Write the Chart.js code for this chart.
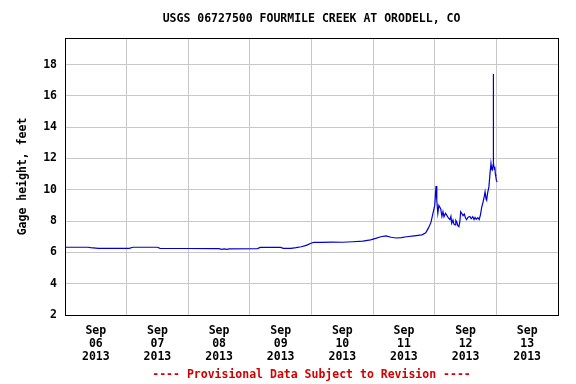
<!DOCTYPE html>
<html>
<head>
<meta charset="utf-8">
<title>USGS 06727500 Fourmile Creek at Orodell, CO</title>
<script src="https://cdn.jsdelivr.net/npm/chart.js@4/dist/chart.umd.min.js"></script>
<style>
    html, body { margin: 0; padding: 0; background: #ffffff; }
    #wrap { width: 576px; height: 384px; }
</style>
</head>
<body>
<div id="wrap"><canvas id="gageChart" width="576" height="384"></canvas></div>
<script>
// Hours since Sep 06 2013 00:00 and gage height (feet)
const hours = [
    0, 9, 10, 13, 25, 26.5, 36, 37, 48, 60, 61, 62, 63, 64, 75, 76, 84, 85, 88, 90,
    92, 94, 96, 97, 100, 104, 108, 112, 116, 119, 121, 123, 125, 127, 129, 131, 133, 136, 139, 140.5,
    141.5, 142.5, 143.3, 144, 144.5, 144.8, 145.2, 145.6, 146.3, 146.8, 147.2, 147.6, 148.2, 148.6, 149.3, 149.9, 150.3, 150.6, 151.1, 151.5,
    151.9, 152.2, 152.6, 153, 153.4, 153.8, 154.1, 154.5, 155, 155.5, 156, 156.4, 157, 157.7, 158.2, 158.8, 159.3, 159.7, 160.2, 160.8,
    161.3, 161.8, 162.3, 162.8, 163.3, 163.6, 164, 164.2, 164.6, 165.1, 165.5, 165.9, 166.2, 166.4, 166.7, 166.8, 166.9, 167.2, 167.4, 167.6,
    167.8, 168, 168.3
];
const gageHeight = [
    6.33, 6.33, 6.30, 6.26, 6.26, 6.33, 6.33, 6.26, 6.25, 6.24, 6.20, 6.22, 6.20, 6.22, 6.24, 6.32, 6.32, 6.26, 6.26, 6.30,
    6.36, 6.45, 6.60, 6.64, 6.64, 6.66, 6.65, 6.68, 6.72, 6.80, 6.90, 7.00, 7.06, 6.97, 6.92, 6.95, 7.00, 7.06, 7.12, 7.25,
    7.55, 7.90, 8.50, 9.00, 10.24, 9.30, 8.50, 9.00, 8.80, 8.30, 8.60, 8.28, 8.50, 8.40, 8.20, 8.10, 8.30, 7.86, 8.07, 7.80,
    7.75, 8.05, 7.95, 7.70, 7.64, 8.00, 8.60, 8.50, 8.35, 8.45, 8.20, 8.10, 8.25, 8.30, 8.15, 8.28, 8.10, 8.24, 8.12, 8.22,
    8.10, 8.40, 8.90, 9.20, 9.60, 9.87, 9.40, 9.34, 9.80, 10.20, 11.00, 11.70, 11.30, 11.26, 11.60, 17.40, 11.70, 11.30, 11.47, 11.00,
    10.83, 10.60, 10.50
];

// Tick labels: one per day, drawn at noon
const dayLabels = [
    ['Sep', '06', '2013'], ['Sep', '07', '2013'], ['Sep', '08', '2013'], ['Sep', '09', '2013'],
    ['Sep', '10', '2013'], ['Sep', '11', '2013'], ['Sep', '12', '2013'], ['Sep', '13', '2013']
];
const yTicks = [2, 4, 6, 8, 10, 12, 14, 16, 18];

const FONT = 'DejaVu Sans Mono';
const GRID = '#c8c8c8';

document.addEventListener('DOMContentLoaded', function() {
    // Black frame all round the plot area
    const frame = {
        id: 'frame',
        afterDraw(chart) {
            const a = chart.chartArea;
            const ctx = chart.ctx;
            ctx.save();
            ctx.strokeStyle = '#000000';
            ctx.lineWidth = 1;
            ctx.strokeRect(Math.round(a.left) + 0.5, Math.round(a.top) + 0.5,
                Math.round(a.right - a.left), Math.round(a.bottom - a.top));
            ctx.restore();
        }
    };

    const points = hours.map((h, i) => ({ x: h, y: gageHeight[i] }));

    new Chart(document.getElementById('gageChart'), {
        type: 'line',
        data: {
            datasets: [{
                data: points,
                borderColor: '#0000d0',
                borderWidth: 1.2,
                pointRadius: 0,
                tension: 0,
                fill: false
            }]
        },
        options: {
            responsive: false,
            animation: false,
            layout: { padding: { left: 0, right: 18, top: 0, bottom: 0 } },
            plugins: {
                legend: { display: false },
                tooltip: { enabled: false },
                title: {
                    display: true,
                    fullSize: false,
                    text: 'USGS 06727500 FOURMILE CREEK AT ORODELL, CO',
                    color: '#000000',
                    font: { family: FONT, size: 11.5, weight: 'bold', lineHeight: '14px' },
                    padding: { top: 12, bottom: 12 }
                },
                subtitle: {
                    display: true,
                    fullSize: false,
                    position: 'bottom',
                    text: '---- Provisional Data Subject to Revision ----',
                    color: '#d40000',
                    font: { family: FONT, size: 11.5, weight: 'bold', lineHeight: '14px' },
                    padding: { top: 0, bottom: 2 }
                }
            },
            scales: {
                x: {
                    type: 'linear',
                    min: 0,
                    max: 192,
                    afterFit: function(scale) { scale.height = 53; },
                    border: { display: false },
                    grid: {
                        drawTicks: false,
                        color: ctx => (ctx.tick && ctx.tick.value % 24 === 0) ? GRID : 'rgba(0,0,0,0)'
                    },
                    ticks: {
                        stepSize: 12,
                        autoSkip: false,
                        maxRotation: 0,
                        padding: 10,
                        color: '#000000',
                        font: { family: FONT, size: 11.5, weight: 'bold', lineHeight: '13px' },
                        callback: function(value) {
                            if (value % 24 !== 12) return '';
                            return dayLabels[(value - 12) / 24];
                        }
                    }
                },
                y: {
                    min: 2,
                    max: 19.7,
                    afterFit: function(scale) { scale.width = 65; },
                    border: { display: false },
                    grid: { drawTicks: false, color: GRID },
                    afterBuildTicks: function(scale) {
                        scale.ticks = yTicks.map(v => ({ value: v }));
                    },
                    ticks: {
                        padding: 8,
                        color: '#000000',
                        font: { family: FONT, size: 11.5, weight: 'bold' }
                    },
                    title: {
                        display: true,
                        text: 'Gage height, feet',
                        color: '#000000',
                        font: { family: FONT, size: 11.5, weight: 'bold', lineHeight: '14px' },
                        padding: { top: 16, bottom: 0 }
                    }
                }
            }
        },
        plugins: [frame]
    });
});
</script>
</body>
</html>
